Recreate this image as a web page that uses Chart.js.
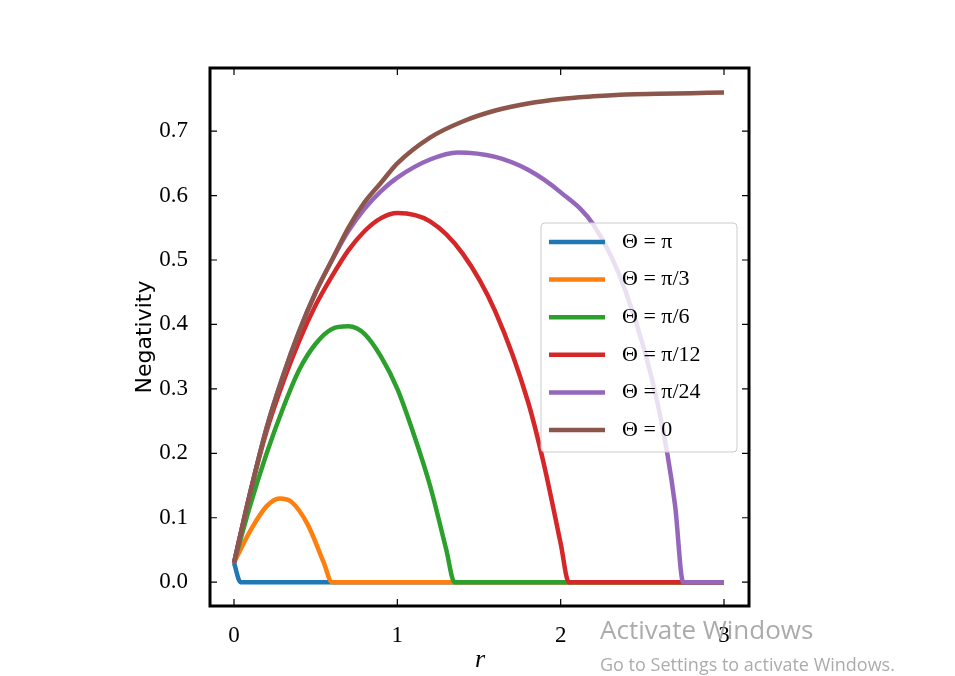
<!DOCTYPE html>
<html><head><meta charset="utf-8">
<script src="https://cdn.jsdelivr.net/npm/chart.js@4/dist/chart.umd.min.js"></script>
<style>html,body{margin:0;padding:0;background:#fff}#w{width:955px;height:676px;position:relative}</style>
</head><body><div id="w"><canvas id="c"></canvas></div>
<script>
const labels = ["Θ = π","Θ = π/3","Θ = π/6","Θ = π/12","Θ = π/24","Θ = 0"];
const colors = ["#1f77b4","#ff7f0e","#2ca02c","#d62728","#9467bd","#8c564b"];
const xBlue = [0,0.04,3];
const yBlue = [0.03,0,0];
const xOrange = [0,0.1,0.2,0.28,0.35,0.45,0.55,0.6,3];
const yOrange = [0.03,0.08,0.118,0.13,0.125,0.09,0.03,0,0];
const xGreen = [0,0.1,0.2,0.3,0.4,0.5,0.6,0.7,0.8,0.9,1.0,1.1,1.2,1.3,1.35,3];
const yGreen = [0.03,0.12,0.2,0.27,0.33,0.37,0.393,0.397,0.385,0.35,0.3,0.23,0.15,0.05,0,0];
const xRed = [0,0.1,0.2,0.3,0.4,0.5,0.6,0.7,0.8,0.9,1.0,1.2,1.4,1.6,1.8,1.9,2.0,2.05,3];
const yRed = [0.03,0.14,0.235,0.31,0.375,0.43,0.475,0.515,0.545,0.565,0.573,0.56,0.51,0.42,0.28,0.18,0.06,0,0];
const xPurple = [0,0.1,0.2,0.3,0.4,0.5,0.6,0.7,0.8,0.9,1.0,1.2,1.37,1.6,1.8,2.0,2.2,2.4,2.6,2.7,2.75,3];
const yPurple = [0.03,0.14,0.24,0.32,0.39,0.45,0.50,0.545,0.58,0.607,0.628,0.656,0.667,0.66,0.64,0.605,0.555,0.45,0.27,0.12,0,0];
const xBrown = [0,0.1,0.2,0.3,0.4,0.5,0.6,0.7,0.8,0.9,1.0,1.2,1.4,1.6,1.8,2.0,2.2,2.4,2.6,2.8,3.0];
const yBrown = [0.03,0.14,0.24,0.32,0.39,0.45,0.50,0.55,0.59,0.62,0.65,0.69,0.715,0.732,0.743,0.75,0.754,0.757,0.758,0.759,0.76];
const xTicks = [0,1,2,3];
const yTicks = [0,0.1,0.2,0.3,0.4,0.5,0.6,0.7];
const series = [[xBlue,yBlue],[xOrange,yOrange],[xGreen,yGreen],[xRed,yRed],[xPurple,yPurple],[xBrown,yBrown]];
const datasets = series.map((s,i)=>({label:labels[i],order:5-i,data:s[0].map((x,j)=>({x:x,y:s[1][j]})),borderColor:colors[i],borderWidth:4.5,pointRadius:0,cubicInterpolationMode:'monotone',fill:false}));
const deco = {id:'deco',afterDraw(ch){
  const c=ch.ctx,a=ch.chartArea,xs=ch.scales.x,ys=ch.scales.y;
  c.save();c.strokeStyle='#000';c.lineWidth=1.2;
  xTicks.forEach(v=>{const p=xs.getPixelForValue(v);c.beginPath();c.moveTo(p,a.bottom);c.lineTo(p,a.bottom-7);c.moveTo(p,a.top);c.lineTo(p,a.top+7);c.stroke();});
  yTicks.forEach(v=>{const p=ys.getPixelForValue(v);c.beginPath();c.moveTo(a.left,p);c.lineTo(a.left+7,p);c.moveTo(a.right,p);c.lineTo(a.right-7,p);c.stroke();});
  c.lineWidth=3;c.strokeRect(a.left,a.top,a.right-a.left,a.bottom-a.top);
  const lx=541,ly=223,lw=196,lh=229;
  c.fillStyle='rgba(255,255,255,0.8)';c.strokeStyle='#ccc';c.lineWidth=1;
  c.beginPath();c.roundRect(lx,ly,lw,lh,4);c.fill();c.stroke();
  c.font='22px "Liberation Serif"';c.textBaseline='middle';
  labels.forEach((t,i)=>{const y=242+i*37.6;c.strokeStyle=colors[i];c.lineWidth=4.5;c.beginPath();c.moveTo(549,y);c.lineTo(605,y);c.stroke();c.fillStyle='#000';c.fillText(t,622,y);});
  c.font='italic 26px "Liberation Serif"';c.textAlign='center';c.fillText('r',480,660);
  c.save();c.translate(145,337);c.rotate(-Math.PI/2);c.font='22px "DejaVu Sans"';c.fillText('Negativity',0,0);c.restore();
  c.textAlign='left';c.fillStyle='rgba(150,150,150,0.8)';c.font='26px "Open Sans"';c.fillText('Activate Windows',600,632);
  c.font='18px "Open Sans"';c.fillText('Go to Settings to activate Windows.',600,666);
  c.restore();}};
new Chart(document.getElementById('c'),{type:'line',data:{datasets},
 options:{responsive:true,maintainAspectRatio:false,animation:false,
  layout:{padding:{top:68,right:206,left:0,bottom:0}},
  plugins:{legend:{display:false},tooltip:{enabled:false}},
  scales:{
   x:{type:'linear',min:-0.147,max:3.153,afterFit(s){s.height=70;},afterBuildTicks(s){s.ticks=xTicks.map(v=>({value:v}));},
      grid:{display:false},border:{display:false},ticks:{color:'#000',font:{family:'Liberation Serif',size:23},padding:8,maxRotation:0}},
   y:{type:'linear',min:-0.037,max:0.798,afterFit(s){s.width=210;},afterBuildTicks(s){s.ticks=yTicks.map(v=>({value:v}));},
      grid:{display:false},border:{display:false},ticks:{color:'#000',font:{family:'Liberation Serif',size:23},padding:14,callback:v=>v.toFixed(1)}}
  }},plugins:[deco]});
</script></body></html>
